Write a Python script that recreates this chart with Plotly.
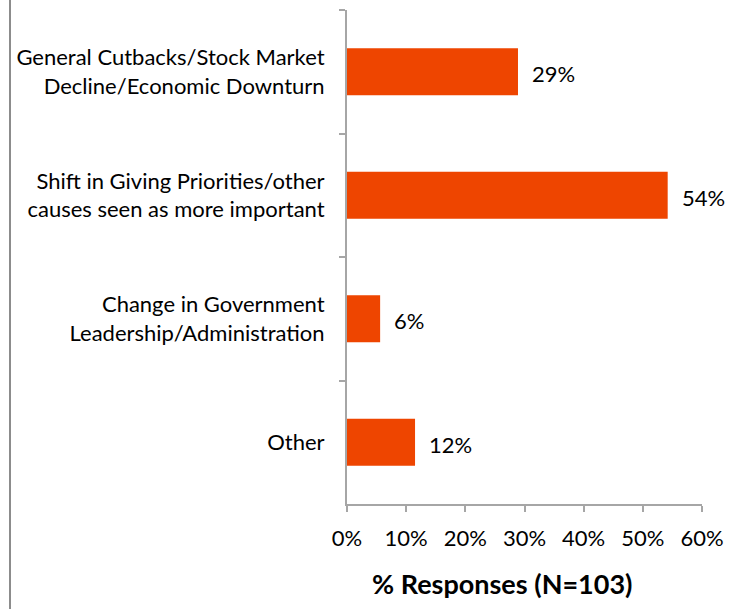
import plotly.graph_objects as go

categories = [
    "General Cutbacks/Stock Market<br>Decline/Economic Downturn",
    "Shift in Giving Priorities/other<br>causes seen as more important",
    "Change in Government<br>Leadership/Administration",
    "Other",
]
values = [28.9, 54.2, 5.6, 11.5]
value_labels = ["29%", "54%", "6%", "12%"]
x_ticks = [0, 10, 20, 30, 40, 50, 60]
x_tick_labels = ["0%", "10%", "20%", "30%", "40%", "50%", "60%"]
x_title = "<b>% Responses (N=103)</b>"

FONT = "Lato"
BAR = "#EE4500"
AXIS = "#A6A6A6"

fig = go.Figure(
    go.Bar(
        y=categories,
        x=values,
        orientation="h",
        marker=dict(color=BAR, line=dict(width=0)),
        width=0.38,
        hoverinfo="skip",
    )
)

for cat, v, lab in zip(categories, values, value_labels):
    fig.add_annotation(
        x=v, y=cat, text=lab, showarrow=False,
        xanchor="left", xshift=12, yshift=-2,
        font=dict(family=FONT, size=22, color="#000000"),
    )

fig.add_annotation(
    xref="paper", yref="paper", x=0.5, y=0, xshift=-23, yshift=-79,
    text=x_title, showarrow=False, xanchor="center", yanchor="middle",
    font=dict(family=FONT, size=27, color="#000000"),
)

fig.update_layout(
    width=735,
    height=609,
    margin=dict(l=347, r=33, t=10, b=105),
    paper_bgcolor="white",
    plot_bgcolor="white",
    showlegend=False,
    font=dict(family=FONT, color="#000000"),
    xaxis=dict(
        range=[0, 60],
        tickvals=x_ticks,
        ticktext=x_tick_labels,
        tickfont=dict(family=FONT, size=22),
        showgrid=False,
        zeroline=False,
        showline=True,
        linecolor=AXIS,
        linewidth=2,
        ticks="outside",
        ticklen=6,
        tickwidth=2,
        tickcolor=AXIS,
        ticklabelstandoff=8,
    ),
    yaxis=dict(
        categoryorder="array",
        categoryarray=categories,
        autorange="reversed",
        tickson="boundaries",
        tickfont=dict(family=FONT, size=22),
        showgrid=False,
        zeroline=False,
        showline=True,
        linecolor=AXIS,
        linewidth=2,
        ticks="outside",
        ticklen=6,
        tickwidth=2,
        tickcolor=AXIS,
        ticklabelstandoff=16,
    ),
    shapes=[
        dict(
            type="line",
            xref="paper",
            yref="paper",
            x0=-337 / 355,
            x1=-337 / 355,
            y0=-105 / 494,
            y1=1 + 10 / 494,
            line=dict(color="#8C8C8C", width=2),
        )
    ],
)

fig.write_html("out.html")
